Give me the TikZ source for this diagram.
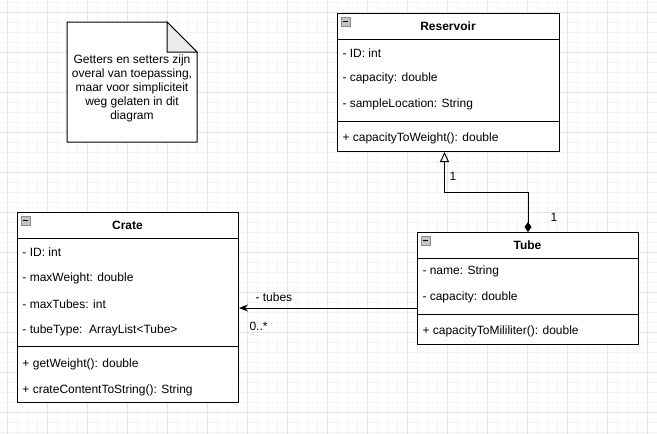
\documentclass[tikz,border=0pt]{standalone}
\usepackage{fontspec}
\setmainfont{Liberation Sans}
\usetikzlibrary{calc}
\usetikzlibrary{arrows.meta}

\definecolor{gridminor}{HTML}{F4F4F4}
\definecolor{gridmajor}{HTML}{E4E4E4}
\definecolor{foldgray}{HTML}{EBEBEB}
\definecolor{icongray}{HTML}{C4C4C4}
\definecolor{iconedge}{HTML}{8C8C8C}

\tikzset{
  classbox/.style={draw, fill=white, anchor=north west, inner sep=0pt},
  attr/.style={anchor=west, inner sep=0pt},
  classname/.style={font=\fontsize{12}{14}\selectfont\bfseries, inner sep=0pt},
  minusicon/.style={draw=iconedge, fill=icongray, line width=0.8pt},
}

\begin{document}
\begin{tikzpicture}[x=1pt, y=-1pt, line width=1pt, font=\fontsize{12}{14}\selectfont]
    \useasboundingbox (0,0) rectangle (657,434);
    % background grid
    \foreach \x in {7,17,...,657} \draw[gridminor] (\x,0) -- (\x,434);
    \foreach \y in {2,12,...,434} \draw[gridminor] (0,\y) -- (657,\y);
    \foreach \x in {7,47,...,657} \draw[gridmajor] (\x,0) -- (\x,434);
    \foreach \y in {12,52,...,434} \draw[gridmajor] (0,\y) -- (657,\y);

    % note
    \draw[fill=white] (67,22) -- (167,22) -- (197,52) -- (197,142) -- (67,142) -- cycle;
    \draw[fill=foldgray] (167,22) -- (167,52) -- (197,52) -- cycle;
    \node[align=center, inner sep=0pt] (note) at (132,88) {Getters en setters zijn\\overal van toepassing,\\maar voor simpliciteit\\weg gelaten in dit\\diagram};

    % Reservoir
    \node[classbox, minimum width=222, minimum height=138] (res) at (337,13) {};
    \draw[minusicon] (341,17) rectangle (350,26);
    \draw[line width=1pt] (343,21.5) -- (348,21.5);
    \node[classname] (res-name) at (448,26) {Reservoir};
    \draw (res.west |- 0,39) -- (res.east |- 0,39);
    \node[attr] (res-id) at (342,53) {- ID: int};
    \node[attr] (res-cap) at (342,78) {- capacity: double};
    \node[attr] (res-loc) at (342,104) {- sampleLocation: String};
    \draw (res.west |- 0,121) -- (res.east |- 0,121);
    \node[attr] (res-weight) at (342,138) {+ capacityToWeight(): double};

    % Crate
    \node[classbox, minimum width=221, minimum height=190] (crate) at (17,212) {};
    \draw[minusicon] (21,216) rectangle (30,225);
    \draw[line width=1pt] (23,220.5) -- (28,220.5);
    \node[classname] (crate-name) at (127.5,225) {Crate};
    \draw (crate.west |- 0,238) -- (crate.east |- 0,238);
    \node[attr] (crate-id) at (22,252) {- ID: int};
    \node[attr] (crate-weight) at (22,278) {- maxWeight: double};
    \node[attr] (crate-tubes) at (22,304) {- maxTubes: int};
    \node[attr] (crate-type) at (22,330) {- tubeType:\ \ ArrayList<Tube>};
    \draw (crate.west |- 0,346) -- (crate.east |- 0,346);
    \node[attr] (crate-get) at (22,364) {+ getWeight(): double};
    \node[attr] (crate-str) at (22,390) {+ crateContentToString(): String};

    % Tube
    \node[classbox, minimum width=221, minimum height=112] (tube) at (417,232) {};
    \draw[minusicon] (421,236) rectangle (430,245);
    \draw[line width=1pt] (423,240.5) -- (428,240.5);
    \node[classname] (tube-name) at (527.5,245) {Tube};
    \draw (tube.west |- 0,258) -- (tube.east |- 0,258);
    \node[attr] (tube-nm) at (422,271) {- name: String};
    \node[attr] (tube-cap) at (422,297) {- capacity: double};
    \draw (tube.west |- 0,314) -- (tube.east |- 0,314);
    \node[attr] (tube-ml) at (422,331) {+ capacityToMililiter(): double};

    % connectors
    \coordinate (resfoot) at ($(res.south)+(-4,0)$);
    \draw[{Diamond[length=10,width=7]}-{Triangle[open,length=10,width=9,fill=white]}]
        (tube.north) -- ++(0,-40) -| (resfoot);
    \node[attr] (one-top) at (449,176) {1};
    \node[attr] (one-bot) at (550,217) {1};

    \coordinate (tubeout) at (tube.west |- 0,308);
    \draw[-{Stealth[length=9,width=7]}] (tubeout) -- (tubeout -| crate.east);
    \node[attr] (tubes-role) at (255,297) {- tubes};
    \node[attr] (tubes-mult) at (249,326) {0..*};
\end{tikzpicture}
\end{document}
